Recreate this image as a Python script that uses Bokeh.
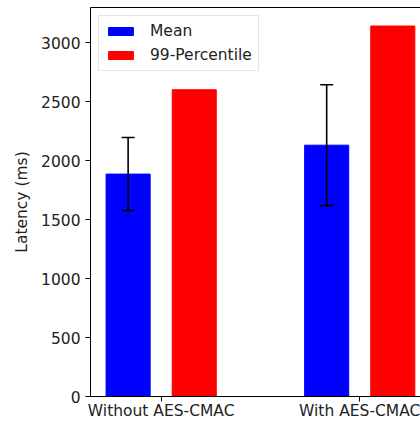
from bokeh.plotting import figure
from bokeh.models import (ColumnDataSource, Whisker, TeeHead, FixedTicker,
                          LinearAxis, Range1d)
from bokeh.embed import file_html
from bokeh.resources import INLINE

categories = ["Without AES-CMAC", "With AES-CMAC"]
mean_latency = [1885, 2130]
p99_latency = [2600, 3140]
mean_err = [310, 512]
y_ticks = [0, 500, 1000, 1500, 2000, 2500, 3000]

group_x = list(range(len(categories)))
offset = 0.1665
bar_w = 0.222

src = ColumnDataSource(dict(
    x_mean=[g - offset for g in group_x],
    x_p99=[g + offset for g in group_x],
    mean=mean_latency,
    p99=p99_latency,
    upper=[m + e for m, e in zip(mean_latency, mean_err)],
    lower=[m - e for m, e in zip(mean_latency, mean_err)],
))

FONT = "DejaVu Sans"
TXT = "#222222"
FS = "15.5px"

Y_MAX = 3297
p = figure(width=420, height=422, output_backend="svg", toolbar_location=None,
           x_range=Range1d(-0.356, 1.306), y_range=Range1d(0, Y_MAX),
           min_border_left=90, min_border_top=7, min_border_bottom=26,
           min_border_right=0)
p.outline_line_color = None
p.xgrid.visible = False
p.ygrid.visible = False

p.vbar(x="x_mean", top="mean", width=bar_w, source=src, color="#0000ff",
       legend_label="Mean")
p.vbar(x="x_p99", top="p99", width=bar_w, source=src, color="#ff0000",
       legend_label="99-Percentile")

wh = Whisker(base="x_mean", upper="upper", lower="lower", source=src,
             line_color="black", line_width=1.6, level="overlay",
             upper_head=TeeHead(size=13, line_color="black", line_width=1.6),
             lower_head=TeeHead(size=13, line_color="black", line_width=1.6))
p.add_layout(wh)

for ax in (p.xaxis[0], p.yaxis[0]):
    ax.axis_line_color = "black"
    ax.axis_line_width = 1
    ax.major_tick_line_color = "black"
    ax.major_tick_out = 5
    ax.major_tick_in = 0
    ax.minor_tick_line_color = None
    ax.major_label_text_font = FONT
    ax.major_label_text_font_size = FS
    ax.major_label_text_color = TXT

p.xaxis.ticker = FixedTicker(ticks=group_x)
p.xaxis.major_label_overrides = {g: c for g, c in zip(group_x, categories)}
p.xaxis.major_label_standoff = 0
p.yaxis.ticker = FixedTicker(ticks=y_ticks)
p.yaxis.major_label_standoff = 5

p.yaxis.axis_label = "Latency (ms)"
p.yaxis.axis_label_text_font = FONT
p.yaxis.axis_label_text_font_style = "normal"
p.yaxis.axis_label_text_font_size = FS
p.yaxis.axis_label_text_color = TXT
p.yaxis.axis_label_standoff = 7

top_axis = LinearAxis(ticker=FixedTicker(ticks=[]), axis_line_color="black",
                      axis_line_width=1, major_tick_line_color=None,
                      minor_tick_line_color=None, major_tick_out=0,
                      major_label_standoff=0, major_label_text_font_size="0px")
p.add_layout(top_axis, "above")

lg = p.legend[0]
lg.location = "top_left"
lg.margin = 8
lg.padding = 6
lg.spacing = 6
lg.label_height = 17
lg.glyph_width = 31
lg.glyph_height = 10
lg.label_standoff = 14
lg.label_text_font = FONT
lg.label_text_font_size = FS
lg.label_text_color = TXT
lg.border_line_color = "#cccccc"
lg.background_fill_alpha = 0.8

open("out.html", "w").write(file_html(p, INLINE))
